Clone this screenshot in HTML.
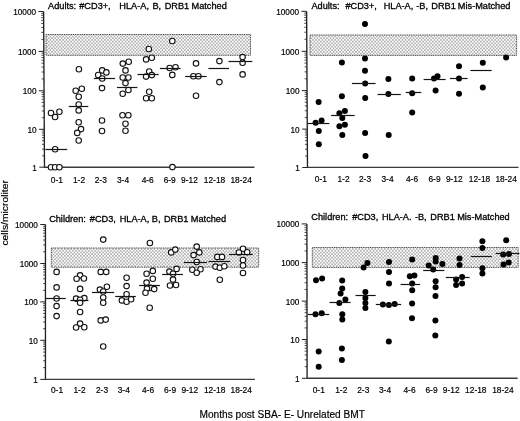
<!DOCTYPE html><html><head><meta charset="utf-8"><style>html,body{margin:0;padding:0;background:#fff;width:520px;height:421px;overflow:hidden}svg{display:block;filter:blur(0.3px)}text{font-family:"Liberation Sans", sans-serif;fill:#000;stroke:#000;stroke-width:0.18px;white-space:pre}</style></head><body>
<svg width="520" height="421" viewBox="0 0 520 421">
<defs><pattern id="dots" patternUnits="userSpaceOnUse" width="3.2" height="3.4"><rect width="3.2" height="3.4" fill="#fff"/><circle cx="0.8" cy="0.85" r="0.75" fill="#909090"/><circle cx="2.4" cy="2.55" r="0.75" fill="#909090"/></pattern></defs>
<rect width="520" height="421" fill="#fff"/>
<g><rect x="46" y="34.5" width="204.5" height="20.8" fill="url(#dots)" stroke="#4a4a4a" stroke-width="1" stroke-dasharray="1.1 0.7"/><line x1="43.6" y1="11.5" x2="44.5" y2="167.9" stroke="#222" stroke-width="1.35"/><line x1="44.5" y1="167.2" x2="254.5" y2="167.2" stroke="#3a3a3a" stroke-width="1.4"/><line x1="39.3" y1="167.2" x2="44.5" y2="167.2" stroke="#222" stroke-width="1"/><text x="36.9" y="170.65" font-size="8.2" text-anchor="end">1</text><line x1="42.03" y1="155.79" x2="44.43" y2="155.79" stroke="#222" stroke-width="0.8"/><line x1="42" y1="149.12" x2="44.4" y2="149.12" stroke="#222" stroke-width="0.8"/><line x1="41.97" y1="144.38" x2="44.37" y2="144.38" stroke="#222" stroke-width="0.8"/><line x1="41.95" y1="140.71" x2="44.35" y2="140.71" stroke="#222" stroke-width="0.8"/><line x1="41.93" y1="137.71" x2="44.33" y2="137.71" stroke="#222" stroke-width="0.8"/><line x1="41.91" y1="135.17" x2="44.31" y2="135.17" stroke="#222" stroke-width="0.8"/><line x1="41.9" y1="132.97" x2="44.3" y2="132.97" stroke="#222" stroke-width="0.8"/><line x1="41.89" y1="131.03" x2="44.29" y2="131.03" stroke="#222" stroke-width="0.8"/><line x1="39.08" y1="129.3" x2="44.28" y2="129.3" stroke="#222" stroke-width="1"/><text x="36.68" y="132.75" font-size="8.2" text-anchor="end">10</text><line x1="41.81" y1="117.71" x2="44.21" y2="117.71" stroke="#222" stroke-width="0.8"/><line x1="41.77" y1="110.93" x2="44.17" y2="110.93" stroke="#222" stroke-width="0.8"/><line x1="41.75" y1="106.12" x2="44.15" y2="106.12" stroke="#222" stroke-width="0.8"/><line x1="41.73" y1="102.39" x2="44.13" y2="102.39" stroke="#222" stroke-width="0.8"/><line x1="41.71" y1="99.34" x2="44.11" y2="99.34" stroke="#222" stroke-width="0.8"/><line x1="41.69" y1="96.76" x2="44.09" y2="96.76" stroke="#222" stroke-width="0.8"/><line x1="41.68" y1="94.53" x2="44.08" y2="94.53" stroke="#222" stroke-width="0.8"/><line x1="41.67" y1="92.56" x2="44.07" y2="92.56" stroke="#222" stroke-width="0.8"/><line x1="38.86" y1="90.8" x2="44.06" y2="90.8" stroke="#222" stroke-width="1"/><text x="36.46" y="94.25" font-size="8.2" text-anchor="end">100</text><line x1="41.59" y1="78.94" x2="43.99" y2="78.94" stroke="#222" stroke-width="0.8"/><line x1="41.55" y1="72" x2="43.95" y2="72" stroke="#222" stroke-width="0.8"/><line x1="41.52" y1="67.08" x2="43.92" y2="67.08" stroke="#222" stroke-width="0.8"/><line x1="41.5" y1="63.26" x2="43.9" y2="63.26" stroke="#222" stroke-width="0.8"/><line x1="41.48" y1="60.14" x2="43.88" y2="60.14" stroke="#222" stroke-width="0.8"/><line x1="41.47" y1="57.5" x2="43.87" y2="57.5" stroke="#222" stroke-width="0.8"/><line x1="41.45" y1="55.22" x2="43.85" y2="55.22" stroke="#222" stroke-width="0.8"/><line x1="41.44" y1="53.2" x2="43.84" y2="53.2" stroke="#222" stroke-width="0.8"/><line x1="38.63" y1="51.4" x2="43.83" y2="51.4" stroke="#222" stroke-width="1"/><text x="36.23" y="54.85" font-size="8.2" text-anchor="end">1000</text><line x1="41.36" y1="39.39" x2="43.76" y2="39.39" stroke="#222" stroke-width="0.8"/><line x1="41.32" y1="32.36" x2="43.72" y2="32.36" stroke="#222" stroke-width="0.8"/><line x1="41.29" y1="27.38" x2="43.69" y2="27.38" stroke="#222" stroke-width="0.8"/><line x1="41.27" y1="23.51" x2="43.67" y2="23.51" stroke="#222" stroke-width="0.8"/><line x1="41.25" y1="20.35" x2="43.65" y2="20.35" stroke="#222" stroke-width="0.8"/><line x1="41.24" y1="17.68" x2="43.64" y2="17.68" stroke="#222" stroke-width="0.8"/><line x1="41.22" y1="15.37" x2="43.62" y2="15.37" stroke="#222" stroke-width="0.8"/><line x1="41.21" y1="13.33" x2="43.61" y2="13.33" stroke="#222" stroke-width="0.8"/><line x1="38.4" y1="11.5" x2="43.6" y2="11.5" stroke="#222" stroke-width="1"/><text x="36" y="14.95" font-size="8.2" text-anchor="end">10000</text><text x="56.8" y="183.2" font-size="8.4" text-anchor="middle">0-1</text><text x="79" y="183.2" font-size="8.4" text-anchor="middle">1-2</text><text x="100.9" y="183.2" font-size="8.4" text-anchor="middle">2-3</text><text x="123" y="183.2" font-size="8.4" text-anchor="middle">3-4</text><text x="147.7" y="183.2" font-size="8.4" text-anchor="middle">4-6</text><text x="169.7" y="183.2" font-size="8.4" text-anchor="middle">6-9</text><text x="189.5" y="183.2" font-size="8.4" text-anchor="middle">9-12</text><text x="214.5" y="183.2" font-size="8.4" text-anchor="middle">12-18</text><text x="241.1" y="183.2" font-size="8.4" text-anchor="middle">18-24</text><text x="48.08" y="8.75" font-size="9.2" style="stroke-width:0.3px">Adults:</text><text x="79.26" y="8.75" font-size="9.2" style="stroke-width:0.3px">#CD3+,</text><text x="119.35" y="8.75" font-size="9.2" style="stroke-width:0.3px">HLA-A,</text><text x="152.45" y="8.75" font-size="9.2" style="stroke-width:0.3px">B,</text><text x="164.65" y="8.75" font-size="9.2" style="stroke-width:0.3px">DRB1</text><text x="191.55" y="8.75" font-size="9.2" style="stroke-width:0.3px">Matched</text><circle cx="51" cy="113" r="2.75" fill="#fff" stroke="#111" stroke-width="1.1"/><circle cx="59.4" cy="111.8" r="2.75" fill="#fff" stroke="#111" stroke-width="1.1"/><circle cx="55.1" cy="117" r="2.75" fill="#fff" stroke="#111" stroke-width="1.1"/><circle cx="55.1" cy="149.2" r="2.75" fill="#fff" stroke="#111" stroke-width="1.1"/><circle cx="51" cy="167.3" r="2.75" fill="#fff" stroke="#111" stroke-width="1.1"/><circle cx="55.1" cy="167.3" r="2.75" fill="#fff" stroke="#111" stroke-width="1.1"/><circle cx="59.4" cy="167.3" r="2.75" fill="#fff" stroke="#111" stroke-width="1.1"/><circle cx="78.9" cy="69.3" r="2.75" fill="#fff" stroke="#111" stroke-width="1.1"/><circle cx="75.7" cy="90.8" r="2.75" fill="#fff" stroke="#111" stroke-width="1.1"/><circle cx="81.8" cy="88.8" r="2.75" fill="#fff" stroke="#111" stroke-width="1.1"/><circle cx="78.7" cy="96.7" r="2.75" fill="#fff" stroke="#111" stroke-width="1.1"/><circle cx="78.7" cy="104.5" r="2.75" fill="#fff" stroke="#111" stroke-width="1.1"/><circle cx="78.7" cy="110.4" r="2.75" fill="#fff" stroke="#111" stroke-width="1.1"/><circle cx="78.7" cy="122.3" r="2.75" fill="#fff" stroke="#111" stroke-width="1.1"/><circle cx="81" cy="129.1" r="2.75" fill="#fff" stroke="#111" stroke-width="1.1"/><circle cx="77.2" cy="132.9" r="2.75" fill="#fff" stroke="#111" stroke-width="1.1"/><circle cx="78.7" cy="140.5" r="2.75" fill="#fff" stroke="#111" stroke-width="1.1"/><circle cx="102.2" cy="70.4" r="2.75" fill="#fff" stroke="#111" stroke-width="1.1"/><circle cx="106.4" cy="72.4" r="2.75" fill="#fff" stroke="#111" stroke-width="1.1"/><circle cx="98.2" cy="75" r="2.75" fill="#fff" stroke="#111" stroke-width="1.1"/><circle cx="102.2" cy="78.5" r="2.75" fill="#fff" stroke="#111" stroke-width="1.1"/><circle cx="102" cy="88.1" r="2.75" fill="#fff" stroke="#111" stroke-width="1.1"/><circle cx="102" cy="120.5" r="2.75" fill="#fff" stroke="#111" stroke-width="1.1"/><circle cx="102" cy="131" r="2.75" fill="#fff" stroke="#111" stroke-width="1.1"/><circle cx="122.8" cy="63.6" r="2.75" fill="#fff" stroke="#111" stroke-width="1.1"/><circle cx="128.7" cy="61.7" r="2.75" fill="#fff" stroke="#111" stroke-width="1.1"/><circle cx="125.5" cy="70.4" r="2.75" fill="#fff" stroke="#111" stroke-width="1.1"/><circle cx="122.7" cy="77.5" r="2.75" fill="#fff" stroke="#111" stroke-width="1.1"/><circle cx="128.4" cy="77.5" r="2.75" fill="#fff" stroke="#111" stroke-width="1.1"/><circle cx="125.5" cy="83.1" r="2.75" fill="#fff" stroke="#111" stroke-width="1.1"/><circle cx="128.4" cy="90" r="2.75" fill="#fff" stroke="#111" stroke-width="1.1"/><circle cx="122.7" cy="93.8" r="2.75" fill="#fff" stroke="#111" stroke-width="1.1"/><circle cx="122.5" cy="115.3" r="2.75" fill="#fff" stroke="#111" stroke-width="1.1"/><circle cx="128.3" cy="115.3" r="2.75" fill="#fff" stroke="#111" stroke-width="1.1"/><circle cx="125.5" cy="123.8" r="2.75" fill="#fff" stroke="#111" stroke-width="1.1"/><circle cx="125.5" cy="130.8" r="2.75" fill="#fff" stroke="#111" stroke-width="1.1"/><circle cx="148.8" cy="49" r="2.75" fill="#fff" stroke="#111" stroke-width="1.1"/><circle cx="146.1" cy="59.4" r="2.75" fill="#fff" stroke="#111" stroke-width="1.1"/><circle cx="151.8" cy="57.7" r="2.75" fill="#fff" stroke="#111" stroke-width="1.1"/><circle cx="149.2" cy="71.5" r="2.75" fill="#fff" stroke="#111" stroke-width="1.1"/><circle cx="146.1" cy="76.6" r="2.75" fill="#fff" stroke="#111" stroke-width="1.1"/><circle cx="151.8" cy="75.1" r="2.75" fill="#fff" stroke="#111" stroke-width="1.1"/><circle cx="149.2" cy="91.8" r="2.75" fill="#fff" stroke="#111" stroke-width="1.1"/><circle cx="146.1" cy="98.3" r="2.75" fill="#fff" stroke="#111" stroke-width="1.1"/><circle cx="151.8" cy="98.3" r="2.75" fill="#fff" stroke="#111" stroke-width="1.1"/><circle cx="172.3" cy="41" r="2.75" fill="#fff" stroke="#111" stroke-width="1.1"/><circle cx="169.7" cy="68" r="2.75" fill="#fff" stroke="#111" stroke-width="1.1"/><circle cx="175.5" cy="67.3" r="2.75" fill="#fff" stroke="#111" stroke-width="1.1"/><circle cx="172.3" cy="74.9" r="2.75" fill="#fff" stroke="#111" stroke-width="1.1"/><circle cx="172.4" cy="167.1" r="2.75" fill="#fff" stroke="#111" stroke-width="1.1"/><circle cx="196" cy="63.4" r="2.75" fill="#fff" stroke="#111" stroke-width="1.1"/><circle cx="193.4" cy="76.2" r="2.75" fill="#fff" stroke="#111" stroke-width="1.1"/><circle cx="198.4" cy="76.2" r="2.75" fill="#fff" stroke="#111" stroke-width="1.1"/><circle cx="196" cy="95.8" r="2.75" fill="#fff" stroke="#111" stroke-width="1.1"/><circle cx="219.4" cy="61.1" r="2.75" fill="#fff" stroke="#111" stroke-width="1.1"/><circle cx="219.4" cy="82.1" r="2.75" fill="#fff" stroke="#111" stroke-width="1.1"/><circle cx="242.6" cy="57.1" r="2.75" fill="#fff" stroke="#111" stroke-width="1.1"/><circle cx="242.6" cy="62.7" r="2.75" fill="#fff" stroke="#111" stroke-width="1.1"/><circle cx="242.6" cy="74.4" r="2.75" fill="#fff" stroke="#111" stroke-width="1.1"/><line x1="45.5" y1="149.5" x2="67.2" y2="149.5" stroke="#151515" stroke-width="1.2"/><line x1="68.7" y1="106.5" x2="88.3" y2="106.5" stroke="#151515" stroke-width="1.2"/><line x1="93.9" y1="78.5" x2="115" y2="78.5" stroke="#151515" stroke-width="1.2"/><line x1="116.9" y1="87.5" x2="137.4" y2="87.5" stroke="#151515" stroke-width="1.2"/><line x1="137.5" y1="74.5" x2="158.6" y2="74.5" stroke="#151515" stroke-width="1.2"/><line x1="159.9" y1="68.5" x2="180.6" y2="68.5" stroke="#151515" stroke-width="1.2"/><line x1="185.2" y1="76.5" x2="206.6" y2="76.5" stroke="#151515" stroke-width="1.2"/><line x1="208.4" y1="68.5" x2="229" y2="68.5" stroke="#151515" stroke-width="1.2"/><line x1="228.5" y1="61.5" x2="252.3" y2="61.5" stroke="#151515" stroke-width="1.2"/></g>
<g><rect x="310" y="35" width="206.6" height="20.4" fill="url(#dots)" stroke="#4a4a4a" stroke-width="1" stroke-dasharray="1.1 0.7"/><line x1="306.6" y1="11.3" x2="307.5" y2="168.1" stroke="#222" stroke-width="1.35"/><line x1="307.5" y1="167.4" x2="518.5" y2="167.4" stroke="#3a3a3a" stroke-width="1.4"/><line x1="302.3" y1="167.5" x2="307.5" y2="167.5" stroke="#222" stroke-width="1"/><text x="299.9" y="170.95" font-size="8.2" text-anchor="end">1</text><line x1="305.03" y1="155.94" x2="307.43" y2="155.94" stroke="#222" stroke-width="0.8"/><line x1="304.99" y1="149.18" x2="307.39" y2="149.18" stroke="#222" stroke-width="0.8"/><line x1="304.97" y1="144.38" x2="307.37" y2="144.38" stroke="#222" stroke-width="0.8"/><line x1="304.95" y1="140.66" x2="307.35" y2="140.66" stroke="#222" stroke-width="0.8"/><line x1="304.93" y1="137.62" x2="307.33" y2="137.62" stroke="#222" stroke-width="0.8"/><line x1="304.91" y1="135.05" x2="307.31" y2="135.05" stroke="#222" stroke-width="0.8"/><line x1="304.9" y1="132.82" x2="307.3" y2="132.82" stroke="#222" stroke-width="0.8"/><line x1="304.89" y1="130.86" x2="307.29" y2="130.86" stroke="#222" stroke-width="0.8"/><line x1="302.08" y1="129.1" x2="307.28" y2="129.1" stroke="#222" stroke-width="1"/><text x="299.68" y="132.55" font-size="8.2" text-anchor="end">10</text><line x1="304.81" y1="117.51" x2="307.21" y2="117.51" stroke="#222" stroke-width="0.8"/><line x1="304.77" y1="110.73" x2="307.17" y2="110.73" stroke="#222" stroke-width="0.8"/><line x1="304.75" y1="105.92" x2="307.15" y2="105.92" stroke="#222" stroke-width="0.8"/><line x1="304.72" y1="102.19" x2="307.12" y2="102.19" stroke="#222" stroke-width="0.8"/><line x1="304.71" y1="99.14" x2="307.11" y2="99.14" stroke="#222" stroke-width="0.8"/><line x1="304.69" y1="96.56" x2="307.09" y2="96.56" stroke="#222" stroke-width="0.8"/><line x1="304.68" y1="94.33" x2="307.08" y2="94.33" stroke="#222" stroke-width="0.8"/><line x1="304.67" y1="92.36" x2="307.07" y2="92.36" stroke="#222" stroke-width="0.8"/><line x1="301.86" y1="90.6" x2="307.06" y2="90.6" stroke="#222" stroke-width="1"/><text x="299.46" y="94.05" font-size="8.2" text-anchor="end">100</text><line x1="304.59" y1="78.77" x2="306.99" y2="78.77" stroke="#222" stroke-width="0.8"/><line x1="304.55" y1="71.85" x2="306.95" y2="71.85" stroke="#222" stroke-width="0.8"/><line x1="304.52" y1="66.94" x2="306.92" y2="66.94" stroke="#222" stroke-width="0.8"/><line x1="304.5" y1="63.13" x2="306.9" y2="63.13" stroke="#222" stroke-width="0.8"/><line x1="304.48" y1="60.02" x2="306.88" y2="60.02" stroke="#222" stroke-width="0.8"/><line x1="304.47" y1="57.39" x2="306.87" y2="57.39" stroke="#222" stroke-width="0.8"/><line x1="304.45" y1="55.11" x2="306.85" y2="55.11" stroke="#222" stroke-width="0.8"/><line x1="304.44" y1="53.1" x2="306.84" y2="53.1" stroke="#222" stroke-width="0.8"/><line x1="301.63" y1="51.3" x2="306.83" y2="51.3" stroke="#222" stroke-width="1"/><text x="299.23" y="54.75" font-size="8.2" text-anchor="end">1000</text><line x1="304.36" y1="39.26" x2="306.76" y2="39.26" stroke="#222" stroke-width="0.8"/><line x1="304.32" y1="32.22" x2="306.72" y2="32.22" stroke="#222" stroke-width="0.8"/><line x1="304.29" y1="27.22" x2="306.69" y2="27.22" stroke="#222" stroke-width="0.8"/><line x1="304.27" y1="23.34" x2="306.67" y2="23.34" stroke="#222" stroke-width="0.8"/><line x1="304.25" y1="20.17" x2="306.65" y2="20.17" stroke="#222" stroke-width="0.8"/><line x1="304.24" y1="17.5" x2="306.64" y2="17.5" stroke="#222" stroke-width="0.8"/><line x1="304.22" y1="15.18" x2="306.62" y2="15.18" stroke="#222" stroke-width="0.8"/><line x1="304.21" y1="13.13" x2="306.61" y2="13.13" stroke="#222" stroke-width="0.8"/><line x1="301.4" y1="11.3" x2="306.6" y2="11.3" stroke="#222" stroke-width="1"/><text x="299" y="14.75" font-size="8.2" text-anchor="end">10000</text><text x="320.8" y="181.5" font-size="8.4" text-anchor="middle">0-1</text><text x="343.5" y="181.5" font-size="8.4" text-anchor="middle">1-2</text><text x="365" y="181.5" font-size="8.4" text-anchor="middle">2-3</text><text x="387.5" y="181.5" font-size="8.4" text-anchor="middle">3-4</text><text x="412" y="181.5" font-size="8.4" text-anchor="middle">4-6</text><text x="434.5" y="181.5" font-size="8.4" text-anchor="middle">6-9</text><text x="454.3" y="181.5" font-size="8.4" text-anchor="middle">9-12</text><text x="479.5" y="181.5" font-size="8.4" text-anchor="middle">12-18</text><text x="506.1" y="181.5" font-size="8.4" text-anchor="middle">18-24</text><text x="311.48" y="8.5" font-size="9.2" style="stroke-width:0.3px">Adults:</text><text x="345.46" y="8.5" font-size="9.2" style="stroke-width:0.3px">#CD3+,</text><text x="383.65" y="8.5" font-size="9.2" style="stroke-width:0.3px">HLA-A,</text><text x="416.3" y="8.5" font-size="9.2" style="stroke-width:0.3px">-B,</text><text x="431.25" y="8.5" font-size="9.2" style="stroke-width:0.3px">DRB1</text><text x="457.85" y="8.5" font-size="9.2" style="stroke-width:0.3px">Mis-Matched</text><circle cx="318.6" cy="102.1" r="3" fill="#000"/><circle cx="315.6" cy="122.7" r="3" fill="#000"/><circle cx="321.6" cy="120.4" r="3" fill="#000"/><circle cx="318.8" cy="131.1" r="3" fill="#000"/><circle cx="318.8" cy="144.2" r="3" fill="#000"/><circle cx="341.9" cy="62.4" r="3" fill="#000"/><circle cx="341.9" cy="96.3" r="3" fill="#000"/><circle cx="339.4" cy="113.2" r="3" fill="#000"/><circle cx="344.9" cy="111.1" r="3" fill="#000"/><circle cx="342.3" cy="117.9" r="3" fill="#000"/><circle cx="339.4" cy="126.2" r="3" fill="#000"/><circle cx="344.9" cy="124.8" r="3" fill="#000"/><circle cx="342.3" cy="135" r="3" fill="#000"/><circle cx="365" cy="24" r="3" fill="#000"/><circle cx="365" cy="58.6" r="3" fill="#000"/><circle cx="365" cy="70.7" r="3" fill="#000"/><circle cx="365.2" cy="83.4" r="3" fill="#000"/><circle cx="365.2" cy="97.9" r="3" fill="#000"/><circle cx="365.1" cy="132.9" r="3" fill="#000"/><circle cx="365.5" cy="156" r="3" fill="#000"/><circle cx="388.4" cy="79" r="3" fill="#000"/><circle cx="388.4" cy="94" r="3" fill="#000"/><circle cx="388.7" cy="135.1" r="3" fill="#000"/><circle cx="412.2" cy="78.5" r="3" fill="#000"/><circle cx="412.2" cy="93.3" r="3" fill="#000"/><circle cx="412.2" cy="112.5" r="3" fill="#000"/><circle cx="434" cy="78.5" r="3" fill="#000"/><circle cx="437.5" cy="76.2" r="3" fill="#000"/><circle cx="435.6" cy="90.4" r="3" fill="#000"/><circle cx="459" cy="66.2" r="3" fill="#000"/><circle cx="459" cy="78.5" r="3" fill="#000"/><circle cx="459" cy="93.7" r="3" fill="#000"/><circle cx="482.8" cy="62.8" r="3" fill="#000"/><circle cx="482.8" cy="87.5" r="3" fill="#000"/><circle cx="506.1" cy="57.4" r="3" fill="#000"/><line x1="307.8" y1="123.5" x2="329.4" y2="123.5" stroke="#151515" stroke-width="1.2"/><line x1="331.1" y1="115.5" x2="354.7" y2="115.5" stroke="#151515" stroke-width="1.2"/><line x1="351.9" y1="83.5" x2="375.6" y2="83.5" stroke="#151515" stroke-width="1.2"/><line x1="377.6" y1="94.5" x2="400.8" y2="94.5" stroke="#151515" stroke-width="1.2"/><line x1="405.7" y1="92.5" x2="421.3" y2="92.5" stroke="#151515" stroke-width="1.2"/><line x1="423.6" y1="79.5" x2="445.6" y2="79.5" stroke="#151515" stroke-width="1.2"/><line x1="449.9" y1="78.5" x2="467.6" y2="78.5" stroke="#151515" stroke-width="1.2"/><line x1="470.4" y1="70.5" x2="491.7" y2="70.5" stroke="#151515" stroke-width="1.2"/></g>
<g><rect x="51.3" y="248" width="207.4" height="19.2" fill="url(#dots)" stroke="#4a4a4a" stroke-width="1" stroke-dasharray="1.1 0.7"/><line x1="45.45" y1="224.5" x2="45.45" y2="380.1" stroke="#222" stroke-width="1.35"/><line x1="45.45" y1="379.4" x2="254.9" y2="379.4" stroke="#3a3a3a" stroke-width="1.4"/><line x1="40.25" y1="379.4" x2="45.45" y2="379.4" stroke="#222" stroke-width="1"/><text x="37.85" y="382.85" font-size="8.2" text-anchor="end">1</text><line x1="43.05" y1="367.63" x2="45.45" y2="367.63" stroke="#222" stroke-width="0.8"/><line x1="43.05" y1="360.74" x2="45.45" y2="360.74" stroke="#222" stroke-width="0.8"/><line x1="43.05" y1="355.86" x2="45.45" y2="355.86" stroke="#222" stroke-width="0.8"/><line x1="43.05" y1="352.07" x2="45.45" y2="352.07" stroke="#222" stroke-width="0.8"/><line x1="43.05" y1="348.97" x2="45.45" y2="348.97" stroke="#222" stroke-width="0.8"/><line x1="43.05" y1="346.36" x2="45.45" y2="346.36" stroke="#222" stroke-width="0.8"/><line x1="43.05" y1="344.09" x2="45.45" y2="344.09" stroke="#222" stroke-width="0.8"/><line x1="43.05" y1="342.09" x2="45.45" y2="342.09" stroke="#222" stroke-width="0.8"/><line x1="40.25" y1="340.3" x2="45.45" y2="340.3" stroke="#222" stroke-width="1"/><text x="37.85" y="343.75" font-size="8.2" text-anchor="end">10</text><line x1="43.05" y1="328.74" x2="45.45" y2="328.74" stroke="#222" stroke-width="0.8"/><line x1="43.05" y1="321.98" x2="45.45" y2="321.98" stroke="#222" stroke-width="0.8"/><line x1="43.05" y1="317.18" x2="45.45" y2="317.18" stroke="#222" stroke-width="0.8"/><line x1="43.05" y1="313.46" x2="45.45" y2="313.46" stroke="#222" stroke-width="0.8"/><line x1="43.05" y1="310.42" x2="45.45" y2="310.42" stroke="#222" stroke-width="0.8"/><line x1="43.05" y1="307.85" x2="45.45" y2="307.85" stroke="#222" stroke-width="0.8"/><line x1="43.05" y1="305.62" x2="45.45" y2="305.62" stroke="#222" stroke-width="0.8"/><line x1="43.05" y1="303.66" x2="45.45" y2="303.66" stroke="#222" stroke-width="0.8"/><line x1="40.25" y1="301.9" x2="45.45" y2="301.9" stroke="#222" stroke-width="1"/><text x="37.85" y="305.35" font-size="8.2" text-anchor="end">100</text><line x1="43.05" y1="290.34" x2="45.45" y2="290.34" stroke="#222" stroke-width="0.8"/><line x1="43.05" y1="283.58" x2="45.45" y2="283.58" stroke="#222" stroke-width="0.8"/><line x1="43.05" y1="278.78" x2="45.45" y2="278.78" stroke="#222" stroke-width="0.8"/><line x1="43.05" y1="275.06" x2="45.45" y2="275.06" stroke="#222" stroke-width="0.8"/><line x1="43.05" y1="272.02" x2="45.45" y2="272.02" stroke="#222" stroke-width="0.8"/><line x1="43.05" y1="269.45" x2="45.45" y2="269.45" stroke="#222" stroke-width="0.8"/><line x1="43.05" y1="267.22" x2="45.45" y2="267.22" stroke="#222" stroke-width="0.8"/><line x1="43.05" y1="265.26" x2="45.45" y2="265.26" stroke="#222" stroke-width="0.8"/><line x1="40.25" y1="263.5" x2="45.45" y2="263.5" stroke="#222" stroke-width="1"/><text x="37.85" y="266.95" font-size="8.2" text-anchor="end">1000</text><line x1="43.05" y1="251.76" x2="45.45" y2="251.76" stroke="#222" stroke-width="0.8"/><line x1="43.05" y1="244.89" x2="45.45" y2="244.89" stroke="#222" stroke-width="0.8"/><line x1="43.05" y1="240.02" x2="45.45" y2="240.02" stroke="#222" stroke-width="0.8"/><line x1="43.05" y1="236.24" x2="45.45" y2="236.24" stroke="#222" stroke-width="0.8"/><line x1="43.05" y1="233.15" x2="45.45" y2="233.15" stroke="#222" stroke-width="0.8"/><line x1="43.05" y1="230.54" x2="45.45" y2="230.54" stroke="#222" stroke-width="0.8"/><line x1="43.05" y1="228.28" x2="45.45" y2="228.28" stroke="#222" stroke-width="0.8"/><line x1="43.05" y1="226.28" x2="45.45" y2="226.28" stroke="#222" stroke-width="0.8"/><line x1="40.25" y1="224.5" x2="45.45" y2="224.5" stroke="#222" stroke-width="1"/><text x="37.85" y="227.95" font-size="8.2" text-anchor="end">10000</text><text x="57" y="392.9" font-size="8.4" text-anchor="middle">0-1</text><text x="79.5" y="392.9" font-size="8.4" text-anchor="middle">1-2</text><text x="102" y="392.9" font-size="8.4" text-anchor="middle">2-3</text><text x="123.75" y="392.9" font-size="8.4" text-anchor="middle">3-4</text><text x="148" y="392.9" font-size="8.4" text-anchor="middle">4-6</text><text x="170" y="392.9" font-size="8.4" text-anchor="middle">6-9</text><text x="189.8" y="392.9" font-size="8.4" text-anchor="middle">9-12</text><text x="214.6" y="392.9" font-size="8.4" text-anchor="middle">12-18</text><text x="241.2" y="392.9" font-size="8.4" text-anchor="middle">18-24</text><text x="49.13" y="221.8" font-size="9.2" style="stroke-width:0.3px">Children:</text><text x="89.86" y="221.8" font-size="9.2" style="stroke-width:0.3px">#CD3,</text><text x="119.65" y="221.8" font-size="9.2" style="stroke-width:0.3px">HLA-A,</text><text x="151.75" y="221.8" font-size="9.2" style="stroke-width:0.3px">B,</text><text x="163.95" y="221.8" font-size="9.2" style="stroke-width:0.3px">DRB1</text><text x="190.85" y="221.8" font-size="9.2" style="stroke-width:0.3px">Matched</text><circle cx="56.6" cy="271.9" r="2.75" fill="#fff" stroke="#111" stroke-width="1.1"/><circle cx="56.6" cy="287.4" r="2.75" fill="#fff" stroke="#111" stroke-width="1.1"/><circle cx="56.6" cy="298.5" r="2.75" fill="#fff" stroke="#111" stroke-width="1.1"/><circle cx="56.6" cy="306.1" r="2.75" fill="#fff" stroke="#111" stroke-width="1.1"/><circle cx="56.6" cy="316.1" r="2.75" fill="#fff" stroke="#111" stroke-width="1.1"/><circle cx="80.1" cy="275.4" r="2.75" fill="#fff" stroke="#111" stroke-width="1.1"/><circle cx="76.6" cy="278.8" r="2.75" fill="#fff" stroke="#111" stroke-width="1.1"/><circle cx="83.9" cy="278.5" r="2.75" fill="#fff" stroke="#111" stroke-width="1.1"/><circle cx="80.1" cy="288.9" r="2.75" fill="#fff" stroke="#111" stroke-width="1.1"/><circle cx="76.1" cy="298.6" r="2.75" fill="#fff" stroke="#111" stroke-width="1.1"/><circle cx="84.3" cy="298.1" r="2.75" fill="#fff" stroke="#111" stroke-width="1.1"/><circle cx="80.1" cy="299.7" r="2.75" fill="#fff" stroke="#111" stroke-width="1.1"/><circle cx="80.1" cy="302.8" r="2.75" fill="#fff" stroke="#111" stroke-width="1.1"/><circle cx="80.1" cy="312" r="2.75" fill="#fff" stroke="#111" stroke-width="1.1"/><circle cx="80.1" cy="323.6" r="2.75" fill="#fff" stroke="#111" stroke-width="1.1"/><circle cx="76.1" cy="327.5" r="2.75" fill="#fff" stroke="#111" stroke-width="1.1"/><circle cx="84.3" cy="327.2" r="2.75" fill="#fff" stroke="#111" stroke-width="1.1"/><circle cx="103.2" cy="239.6" r="2.75" fill="#fff" stroke="#111" stroke-width="1.1"/><circle cx="100.7" cy="271.9" r="2.75" fill="#fff" stroke="#111" stroke-width="1.1"/><circle cx="106.2" cy="271.9" r="2.75" fill="#fff" stroke="#111" stroke-width="1.1"/><circle cx="99.9" cy="289.6" r="2.75" fill="#fff" stroke="#111" stroke-width="1.1"/><circle cx="106.9" cy="286.8" r="2.75" fill="#fff" stroke="#111" stroke-width="1.1"/><circle cx="103.2" cy="291.5" r="2.75" fill="#fff" stroke="#111" stroke-width="1.1"/><circle cx="103.2" cy="297.5" r="2.75" fill="#fff" stroke="#111" stroke-width="1.1"/><circle cx="103.2" cy="302.8" r="2.75" fill="#fff" stroke="#111" stroke-width="1.1"/><circle cx="100.7" cy="320.4" r="2.75" fill="#fff" stroke="#111" stroke-width="1.1"/><circle cx="105.7" cy="319.6" r="2.75" fill="#fff" stroke="#111" stroke-width="1.1"/><circle cx="103.2" cy="346.5" r="2.75" fill="#fff" stroke="#111" stroke-width="1.1"/><circle cx="126.6" cy="277.8" r="2.75" fill="#fff" stroke="#111" stroke-width="1.1"/><circle cx="126.6" cy="286.1" r="2.75" fill="#fff" stroke="#111" stroke-width="1.1"/><circle cx="126.6" cy="294.2" r="2.75" fill="#fff" stroke="#111" stroke-width="1.1"/><circle cx="121.9" cy="300.4" r="2.75" fill="#fff" stroke="#111" stroke-width="1.1"/><circle cx="126.6" cy="301.8" r="2.75" fill="#fff" stroke="#111" stroke-width="1.1"/><circle cx="131.1" cy="299.2" r="2.75" fill="#fff" stroke="#111" stroke-width="1.1"/><circle cx="149.9" cy="243" r="2.75" fill="#fff" stroke="#111" stroke-width="1.1"/><circle cx="146.6" cy="273.7" r="2.75" fill="#fff" stroke="#111" stroke-width="1.1"/><circle cx="152.8" cy="270.9" r="2.75" fill="#fff" stroke="#111" stroke-width="1.1"/><circle cx="152.8" cy="278.8" r="2.75" fill="#fff" stroke="#111" stroke-width="1.1"/><circle cx="146.6" cy="282.6" r="2.75" fill="#fff" stroke="#111" stroke-width="1.1"/><circle cx="150.4" cy="287.9" r="2.75" fill="#fff" stroke="#111" stroke-width="1.1"/><circle cx="147" cy="288.6" r="2.75" fill="#fff" stroke="#111" stroke-width="1.1"/><circle cx="154.2" cy="289.1" r="2.75" fill="#fff" stroke="#111" stroke-width="1.1"/><circle cx="145.5" cy="292.7" r="2.75" fill="#fff" stroke="#111" stroke-width="1.1"/><circle cx="149.7" cy="307.7" r="2.75" fill="#fff" stroke="#111" stroke-width="1.1"/><circle cx="171.2" cy="252.4" r="2.75" fill="#fff" stroke="#111" stroke-width="1.1"/><circle cx="175.3" cy="249.6" r="2.75" fill="#fff" stroke="#111" stroke-width="1.1"/><circle cx="169.4" cy="271.6" r="2.75" fill="#fff" stroke="#111" stroke-width="1.1"/><circle cx="176.6" cy="268.9" r="2.75" fill="#fff" stroke="#111" stroke-width="1.1"/><circle cx="173" cy="273.7" r="2.75" fill="#fff" stroke="#111" stroke-width="1.1"/><circle cx="173" cy="279.6" r="2.75" fill="#fff" stroke="#111" stroke-width="1.1"/><circle cx="170" cy="285.5" r="2.75" fill="#fff" stroke="#111" stroke-width="1.1"/><circle cx="176" cy="285" r="2.75" fill="#fff" stroke="#111" stroke-width="1.1"/><circle cx="196.7" cy="246.6" r="2.75" fill="#fff" stroke="#111" stroke-width="1.1"/><circle cx="199.3" cy="252.4" r="2.75" fill="#fff" stroke="#111" stroke-width="1.1"/><circle cx="193.6" cy="255.1" r="2.75" fill="#fff" stroke="#111" stroke-width="1.1"/><circle cx="196.7" cy="262" r="2.75" fill="#fff" stroke="#111" stroke-width="1.1"/><circle cx="192.3" cy="269.7" r="2.75" fill="#fff" stroke="#111" stroke-width="1.1"/><circle cx="200.5" cy="269.3" r="2.75" fill="#fff" stroke="#111" stroke-width="1.1"/><circle cx="196.7" cy="272.8" r="2.75" fill="#fff" stroke="#111" stroke-width="1.1"/><circle cx="217.3" cy="256.9" r="2.75" fill="#fff" stroke="#111" stroke-width="1.1"/><circle cx="222" cy="256.9" r="2.75" fill="#fff" stroke="#111" stroke-width="1.1"/><circle cx="215.5" cy="266.6" r="2.75" fill="#fff" stroke="#111" stroke-width="1.1"/><circle cx="219.8" cy="267.7" r="2.75" fill="#fff" stroke="#111" stroke-width="1.1"/><circle cx="224.3" cy="266.3" r="2.75" fill="#fff" stroke="#111" stroke-width="1.1"/><circle cx="219.8" cy="279.8" r="2.75" fill="#fff" stroke="#111" stroke-width="1.1"/><circle cx="243" cy="248.8" r="2.75" fill="#fff" stroke="#111" stroke-width="1.1"/><circle cx="238.9" cy="252.5" r="2.75" fill="#fff" stroke="#111" stroke-width="1.1"/><circle cx="247.2" cy="252.2" r="2.75" fill="#fff" stroke="#111" stroke-width="1.1"/><circle cx="243" cy="260" r="2.75" fill="#fff" stroke="#111" stroke-width="1.1"/><circle cx="243" cy="265.5" r="2.75" fill="#fff" stroke="#111" stroke-width="1.1"/><circle cx="243" cy="273" r="2.75" fill="#fff" stroke="#111" stroke-width="1.1"/><line x1="45.8" y1="298.5" x2="65.8" y2="298.5" stroke="#151515" stroke-width="1.2"/><line x1="70.4" y1="300.5" x2="88.4" y2="300.5" stroke="#151515" stroke-width="1.2"/><line x1="92" y1="292.5" x2="114.2" y2="292.5" stroke="#151515" stroke-width="1.2"/><line x1="115.2" y1="296.5" x2="135.8" y2="296.5" stroke="#151515" stroke-width="1.2"/><line x1="139.2" y1="285.5" x2="159.9" y2="285.5" stroke="#151515" stroke-width="1.2"/><line x1="162.2" y1="274.5" x2="183" y2="274.5" stroke="#151515" stroke-width="1.2"/><line x1="183.9" y1="262.5" x2="207" y2="262.5" stroke="#151515" stroke-width="1.2"/><line x1="208.5" y1="261.5" x2="230.2" y2="261.5" stroke="#151515" stroke-width="1.2"/><line x1="228.9" y1="254.5" x2="253" y2="254.5" stroke="#151515" stroke-width="1.2"/></g>
<g><rect x="312.3" y="247.5" width="205.9" height="19.9" fill="url(#dots)" stroke="#4a4a4a" stroke-width="1" stroke-dasharray="1.1 0.7"/><line x1="306.9" y1="223.9" x2="307.1" y2="379" stroke="#222" stroke-width="1.35"/><line x1="307.1" y1="378.3" x2="517.7" y2="378.3" stroke="#3a3a3a" stroke-width="1.4"/><line x1="301.9" y1="378.3" x2="307.1" y2="378.3" stroke="#222" stroke-width="1"/><text x="299.5" y="381.75" font-size="8.2" text-anchor="end">1</text><line x1="304.68" y1="366.62" x2="307.08" y2="366.62" stroke="#222" stroke-width="0.8"/><line x1="304.68" y1="359.79" x2="307.08" y2="359.79" stroke="#222" stroke-width="0.8"/><line x1="304.67" y1="354.94" x2="307.07" y2="354.94" stroke="#222" stroke-width="0.8"/><line x1="304.66" y1="351.18" x2="307.06" y2="351.18" stroke="#222" stroke-width="0.8"/><line x1="304.66" y1="348.11" x2="307.06" y2="348.11" stroke="#222" stroke-width="0.8"/><line x1="304.66" y1="345.51" x2="307.06" y2="345.51" stroke="#222" stroke-width="0.8"/><line x1="304.65" y1="343.26" x2="307.05" y2="343.26" stroke="#222" stroke-width="0.8"/><line x1="304.65" y1="341.28" x2="307.05" y2="341.28" stroke="#222" stroke-width="0.8"/><line x1="301.85" y1="339.5" x2="307.05" y2="339.5" stroke="#222" stroke-width="1"/><text x="299.45" y="342.95" font-size="8.2" text-anchor="end">10</text><line x1="304.63" y1="327.94" x2="307.03" y2="327.94" stroke="#222" stroke-width="0.8"/><line x1="304.63" y1="321.18" x2="307.03" y2="321.18" stroke="#222" stroke-width="0.8"/><line x1="304.62" y1="316.38" x2="307.02" y2="316.38" stroke="#222" stroke-width="0.8"/><line x1="304.61" y1="312.66" x2="307.01" y2="312.66" stroke="#222" stroke-width="0.8"/><line x1="304.61" y1="309.62" x2="307.01" y2="309.62" stroke="#222" stroke-width="0.8"/><line x1="304.61" y1="307.05" x2="307.01" y2="307.05" stroke="#222" stroke-width="0.8"/><line x1="304.6" y1="304.82" x2="307" y2="304.82" stroke="#222" stroke-width="0.8"/><line x1="304.6" y1="302.86" x2="307" y2="302.86" stroke="#222" stroke-width="0.8"/><line x1="301.8" y1="301.1" x2="307" y2="301.1" stroke="#222" stroke-width="1"/><text x="299.4" y="304.55" font-size="8.2" text-anchor="end">100</text><line x1="304.58" y1="289.51" x2="306.98" y2="289.51" stroke="#222" stroke-width="0.8"/><line x1="304.58" y1="282.73" x2="306.98" y2="282.73" stroke="#222" stroke-width="0.8"/><line x1="304.57" y1="277.92" x2="306.97" y2="277.92" stroke="#222" stroke-width="0.8"/><line x1="304.57" y1="274.19" x2="306.97" y2="274.19" stroke="#222" stroke-width="0.8"/><line x1="304.56" y1="271.14" x2="306.96" y2="271.14" stroke="#222" stroke-width="0.8"/><line x1="304.56" y1="268.56" x2="306.96" y2="268.56" stroke="#222" stroke-width="0.8"/><line x1="304.55" y1="266.33" x2="306.95" y2="266.33" stroke="#222" stroke-width="0.8"/><line x1="304.55" y1="264.36" x2="306.95" y2="264.36" stroke="#222" stroke-width="0.8"/><line x1="301.75" y1="262.6" x2="306.95" y2="262.6" stroke="#222" stroke-width="1"/><text x="299.35" y="266.05" font-size="8.2" text-anchor="end">1000</text><line x1="304.54" y1="250.95" x2="306.94" y2="250.95" stroke="#222" stroke-width="0.8"/><line x1="304.53" y1="244.14" x2="306.93" y2="244.14" stroke="#222" stroke-width="0.8"/><line x1="304.52" y1="239.3" x2="306.92" y2="239.3" stroke="#222" stroke-width="0.8"/><line x1="304.52" y1="235.55" x2="306.92" y2="235.55" stroke="#222" stroke-width="0.8"/><line x1="304.51" y1="232.49" x2="306.91" y2="232.49" stroke="#222" stroke-width="0.8"/><line x1="304.51" y1="229.89" x2="306.91" y2="229.89" stroke="#222" stroke-width="0.8"/><line x1="304.5" y1="227.65" x2="306.9" y2="227.65" stroke="#222" stroke-width="0.8"/><line x1="304.5" y1="225.67" x2="306.9" y2="225.67" stroke="#222" stroke-width="0.8"/><line x1="301.7" y1="223.9" x2="306.9" y2="223.9" stroke="#222" stroke-width="1"/><text x="299.3" y="227.35" font-size="8.2" text-anchor="end">10000</text><text x="318.75" y="392.5" font-size="8.4" text-anchor="middle">0-1</text><text x="341.25" y="392.5" font-size="8.4" text-anchor="middle">1-2</text><text x="363.25" y="392.5" font-size="8.4" text-anchor="middle">2-3</text><text x="385" y="392.5" font-size="8.4" text-anchor="middle">3-4</text><text x="409.5" y="392.5" font-size="8.4" text-anchor="middle">4-6</text><text x="431.5" y="392.5" font-size="8.4" text-anchor="middle">6-9</text><text x="451.2" y="392.5" font-size="8.4" text-anchor="middle">9-12</text><text x="475.8" y="392.5" font-size="8.4" text-anchor="middle">12-18</text><text x="502.9" y="392.5" font-size="8.4" text-anchor="middle">18-24</text><text x="311.33" y="220.4" font-size="9.2" style="stroke-width:0.3px">Children:</text><text x="352.16" y="220.4" font-size="9.2" style="stroke-width:0.3px">#CD3,</text><text x="381.95" y="220.4" font-size="9.2" style="stroke-width:0.3px">HLA-A.</text><text x="414.9" y="220.4" font-size="9.2" style="stroke-width:0.3px">-B,</text><text x="430.35" y="220.4" font-size="9.2" style="stroke-width:0.3px">DRB1</text><text x="457.15" y="220.4" font-size="9.2" style="stroke-width:0.3px">Mis-Matched</text><circle cx="316" cy="280.2" r="3" fill="#000"/><circle cx="322.1" cy="278.6" r="3" fill="#000"/><circle cx="315.5" cy="314.2" r="3" fill="#000"/><circle cx="321.7" cy="313.2" r="3" fill="#000"/><circle cx="318.7" cy="351.5" r="3" fill="#000"/><circle cx="318.7" cy="366.7" r="3" fill="#000"/><circle cx="342.2" cy="280.4" r="3" fill="#000"/><circle cx="342.2" cy="288.6" r="3" fill="#000"/><circle cx="340.6" cy="293.5" r="3" fill="#000"/><circle cx="345.4" cy="299.4" r="3" fill="#000"/><circle cx="339.3" cy="303.1" r="3" fill="#000"/><circle cx="342.3" cy="314.2" r="3" fill="#000"/><circle cx="342.3" cy="319.6" r="3" fill="#000"/><circle cx="341.9" cy="348.5" r="3" fill="#000"/><circle cx="341.9" cy="360" r="3" fill="#000"/><circle cx="367.4" cy="262.9" r="3" fill="#000"/><circle cx="363.6" cy="267.6" r="3" fill="#000"/><circle cx="365.4" cy="291.9" r="3" fill="#000"/><circle cx="365.4" cy="297.9" r="3" fill="#000"/><circle cx="365.4" cy="302.9" r="3" fill="#000"/><circle cx="365.4" cy="307.9" r="3" fill="#000"/><circle cx="389" cy="262.1" r="3" fill="#000"/><circle cx="389" cy="272.1" r="3" fill="#000"/><circle cx="389" cy="283.6" r="3" fill="#000"/><circle cx="382.9" cy="304.5" r="3" fill="#000"/><circle cx="388.9" cy="305.1" r="3" fill="#000"/><circle cx="394.7" cy="304.1" r="3" fill="#000"/><circle cx="388.8" cy="341.5" r="3" fill="#000"/><circle cx="412.2" cy="259.5" r="3" fill="#000"/><circle cx="409.8" cy="276.2" r="3" fill="#000"/><circle cx="414.4" cy="275.4" r="3" fill="#000"/><circle cx="412.2" cy="283.6" r="3" fill="#000"/><circle cx="412.2" cy="290.2" r="3" fill="#000"/><circle cx="412.1" cy="303.6" r="3" fill="#000"/><circle cx="412" cy="318.2" r="3" fill="#000"/><circle cx="435.7" cy="258" r="3" fill="#000"/><circle cx="435.7" cy="261.5" r="3" fill="#000"/><circle cx="428.7" cy="265.5" r="3" fill="#000"/><circle cx="442.4" cy="264" r="3" fill="#000"/><circle cx="433.2" cy="269.5" r="3" fill="#000"/><circle cx="435.6" cy="281.3" r="3" fill="#000"/><circle cx="435.6" cy="287.2" r="3" fill="#000"/><circle cx="435.5" cy="296.1" r="3" fill="#000"/><circle cx="435.4" cy="320.4" r="3" fill="#000"/><circle cx="435.3" cy="335.4" r="3" fill="#000"/><circle cx="459.5" cy="258.6" r="3" fill="#000"/><circle cx="459.5" cy="264.9" r="3" fill="#000"/><circle cx="456.1" cy="279.6" r="3" fill="#000"/><circle cx="462.1" cy="276.9" r="3" fill="#000"/><circle cx="456.1" cy="284.9" r="3" fill="#000"/><circle cx="462.1" cy="283.5" r="3" fill="#000"/><circle cx="482.4" cy="241.3" r="3" fill="#000"/><circle cx="482.4" cy="248" r="3" fill="#000"/><circle cx="482.4" cy="268.2" r="3" fill="#000"/><circle cx="482.4" cy="273.6" r="3" fill="#000"/><circle cx="506.2" cy="240.3" r="3" fill="#000"/><circle cx="503.2" cy="254.6" r="3" fill="#000"/><circle cx="509" cy="254.1" r="3" fill="#000"/><circle cx="503.5" cy="264.6" r="3" fill="#000"/><circle cx="508.7" cy="262.4" r="3" fill="#000"/><line x1="308" y1="314.5" x2="329.2" y2="314.5" stroke="#151515" stroke-width="1.2"/><line x1="329.5" y1="302.5" x2="350.6" y2="302.5" stroke="#151515" stroke-width="1.2"/><line x1="355.5" y1="295.5" x2="375.7" y2="295.5" stroke="#151515" stroke-width="1.2"/><line x1="375.8" y1="304.5" x2="401.2" y2="304.5" stroke="#151515" stroke-width="1.2"/><line x1="400.6" y1="284.5" x2="420.2" y2="284.5" stroke="#151515" stroke-width="1.2"/><line x1="423.2" y1="270.5" x2="444.4" y2="270.5" stroke="#151515" stroke-width="1.2"/><line x1="445.8" y1="277.5" x2="469.6" y2="277.5" stroke="#151515" stroke-width="1.2"/><line x1="470.8" y1="256.5" x2="491.9" y2="256.5" stroke="#151515" stroke-width="1.2"/><line x1="495.7" y1="253.5" x2="519.5" y2="253.5" stroke="#151515" stroke-width="1.2"/></g>
<text x="0" y="0" font-size="9.4" transform="translate(8.2,245.6) rotate(-90)" textLength="65.5" lengthAdjust="spacingAndGlyphs">cells/microliter</text>
<text x="199.5" y="418.1" font-size="10" textLength="165.4" lengthAdjust="spacingAndGlyphs">Months post SBA- E- Unrelated BMT</text>
</svg></body></html>
